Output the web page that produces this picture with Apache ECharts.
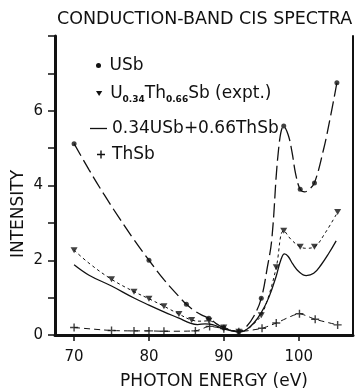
<!DOCTYPE html>
<html>
<head>
<meta charset="utf-8">
<script src="https://cdn.jsdelivr.net/npm/echarts@6/dist/echarts.min.js"></script>
<style>
  html, body { margin: 0; padding: 0; background: #fff; }
  #chart { width: 356px; height: 392px; }
</style>
</head>
<body>
<div id="chart"></div>
<script>
// x ticks / y ticks
const xTicks = [70, 80, 90, 100];
const yLabels = [0, 2, 4, 6];

// USb: long dashes + dots
const usbCurve = [[70,5.12],[72,4.42],[74,3.76],[76,3.14],[78,2.55],[80,2.0],[82,1.48],[84,1.03],[85,0.82],[86,0.66],[87,0.54],[88,0.45],[89,0.3],[90,0.19],[91,0.12],[92,0.09],[93,0.22],[94,0.5],[95,0.98],[95.8,1.8],[96.4,2.55],[97.3,4.95],[98,5.59],[98.6,5.35],[99.1,4.9],[99.6,4.3],[100.2,3.9],[100.8,3.83],[101.4,3.9],[102.1,4.07],[103.3,4.95],[104.2,5.8],[105.1,6.75]];
const usbMarks = [[70,5.12],[80,2.0],[85,0.82],[88,0.45],[90,0.19],[92,0.09],[95,0.98],[98,5.59],[100.2,3.9],[102.1,4.07],[105.1,6.75]];

// U0.34Th0.66Sb measured: short dashes + triangles
const exptCurve = [[70,2.27],[72,1.92],[75,1.49],[78,1.16],[80,0.97],[82,0.77],[84,0.56],[85.7,0.4],[87,0.37],[88,0.38],[89,0.3],[90,0.2],[91,0.13],[92,0.09],[93,0.14],[94,0.3],[95,0.53],[96,1.05],[97,1.81],[98,2.79],[99,2.55],[100.2,2.36],[101,2.32],[102.1,2.36],[103.5,2.72],[105.2,3.29]];
const exptMarks = [[70,2.27],[75,1.49],[78,1.16],[80,0.97],[82,0.77],[84,0.56],[85.7,0.4],[88,0.38],[90,0.2],[92,0.09],[95,0.53],[97,1.81],[98,2.79],[100.2,2.36],[102.1,2.36],[105.2,3.29]];

// 0.34USb + 0.66ThSb: solid
const calcCurve = [[70,1.88],[72,1.6],[75,1.31],[78,0.99],[80,0.8],[82,0.62],[84,0.45],[85.5,0.32],[86.5,0.28],[87.5,0.3],[88.5,0.28],[89.5,0.2],[90.5,0.14],[91.5,0.1],[92.3,0.09],[93,0.14],[94,0.32],[95,0.6],[96,1.0],[97,1.58],[97.6,2.0],[98.1,2.17],[98.6,2.1],[99.2,1.9],[100,1.7],[101,1.59],[102,1.65],[103,1.88],[104,2.18],[105,2.52]];

// ThSb: dashes + crosses
const thsbMarks = [[70,0.2],[75,0.12],[78,0.11],[80,0.11],[82,0.1],[86.2,0.11],[88.1,0.23],[90,0.17],[92,0.09],[95.1,0.18],[97,0.32],[100.1,0.57],[102.2,0.42],[105.2,0.27]];

const INK = '#111';
const FONT = 'DejaVu Sans';
const CROSS = 'path://M3.3,0h1.4v3.3h3.3v1.4h-3.3v3.3h-1.4v-3.3h-3.3v-1.4h3.3z';

const names = ['USb', 'U0.34Th0.66Sb (expt.)', '0.34USb+0.66ThSb', 'ThSb'];

function curve(name, data, dash, width, smooth) {
  return {
    name, type: 'line', data, smooth, symbol: 'none', z: 2,
    lineStyle: { color: INK, width, type: dash },
    emphasis: { disabled: true }, animation: false
  };
}
function marks(name, data, symbol, size, rotate) {
  return {
    name, type: 'scatter', data, symbol, symbolSize: size, symbolRotate: rotate || 0, z: 3,
    itemStyle: { color: INK }, emphasis: { disabled: true }, animation: false
  };
}

const legendBase = {
  orient: 'horizontal', padding: 0, selectedMode: false, symbolKeepAspect: true,
  textStyle: { fontFamily: FONT, fontSize: 17, color: INK },
  itemStyle: { color: INK, borderWidth: 0 }, lineStyle: { width: 0 }
};

const chart = echarts.init(document.getElementById('chart'), null, { renderer: 'canvas' });
chart.setOption({
  backgroundColor: '#fff',
  animation: false,
  title: {
    text: 'CONDUCTION-BAND CIS SPECTRA', left: 57, top: 10, padding: 0,
    textStyle: { fontFamily: FONT, fontSize: 17.5, fontWeight: 'normal', color: INK }
  },
  grid: { left: 55, right: 3, top: 36, bottom: 57 },
  xAxis: [{
    type: 'value', min: 67.45, max: 107.25, position: 'bottom',
    axisLine: { lineStyle: { color: INK, width: 3 } },
    axisTick: { show: true, inside: false, length: 6, customValues: xTicks, lineStyle: { color: INK, width: 1.5 } },
    axisLabel: { customValues: xTicks, margin: 15, color: INK, fontFamily: FONT, fontSize: 15 },
    splitLine: { show: false }
  }, {
    type: 'value', min: 67.45, max: 107.25, position: 'top',
    axisLine: { lineStyle: { color: INK, width: 2 } },
    axisTick: { show: true, inside: true, length: 6, customValues: xTicks, lineStyle: { color: INK, width: 1.5 } },
    axisLabel: { show: false }, splitLine: { show: false }
  }],
  yAxis: [{
    type: 'value', min: 0, max: 8, interval: 1, position: 'left',
    axisLine: { show: true, lineStyle: { color: INK, width: 3 } },
    axisTick: { show: true, inside: false, length: 7, lineStyle: { color: INK, width: 1.5 } },
    axisLabel: {
      margin: 12, color: INK, fontFamily: FONT, fontSize: 15,
      formatter: v => yLabels.indexOf(v) >= 0 ? String(v) : ''
    },
    splitLine: { show: false }
  }, {
    type: 'value', min: 0, max: 8, position: 'right',
    axisLine: { show: true, lineStyle: { color: INK, width: 2 } },
    axisTick: { show: false }, axisLabel: { show: false }, splitLine: { show: false }
  }],
  legend: [
    Object.assign({}, legendBase, {
      data: [{ name: names[0], icon: 'circle' }], left: 96, top: 57, itemWidth: 12, itemHeight: 5
    }),
    Object.assign({}, legendBase, {
      data: [{ name: names[1], icon: 'path://M0,0L10,0L5,8Z' }], left: 96, top: 85, itemWidth: 12, itemHeight: 5,
      formatter: () => '{n|U}{s|0.34}{n|Th}{s|0.66}{n|Sb (expt.)}',
      textStyle: {
        fontFamily: FONT, fontSize: 17, color: INK,
        rich: {
          n: { fontFamily: FONT, fontSize: 17, color: INK, lineHeight: 22, verticalAlign: 'middle' },
          s: { fontFamily: FONT, fontSize: 9, fontWeight: 'bold', color: INK, verticalAlign: 'bottom' }
        }
      }
    }),
    Object.assign({}, legendBase, {
      data: [{ name: names[2], icon: 'rect' }], left: 90, top: 120, itemWidth: 17, itemHeight: 1.3
    }),
    Object.assign({}, legendBase, {
      data: [{ name: names[3], icon: CROSS }], left: 97, top: 146, itemWidth: 12, itemHeight: 8
    })
  ],
  graphic: [{
    type: 'text', x: 19, y: 214, rotation: Math.PI / 2,
    style: { text: 'INTENSITY', fontFamily: FONT, fontSize: 17, fill: INK, align: 'center', verticalAlign: 'middle' }
  }, {
    type: 'text', x: 214, y: 382,
    style: { text: 'PHOTON ENERGY (eV)', fontFamily: FONT, fontSize: 17, fill: INK, align: 'center', verticalAlign: 'middle' }
  }],
  series: [
    curve(names[0], usbCurve, [14, 5], 1.3, 0.4),
    marks(names[0], usbMarks, 'circle', 5),
    curve(names[1], exptCurve, [3, 3], 1, 0.4),
    marks(names[1], exptMarks, 'triangle', [7, 6], 180),
    curve(names[2], calcCurve, 'solid', 1.3, 0.4),
    curve(names[3], thsbMarks, [6, 4], 1, 0.2),
    marks(names[3], thsbMarks, CROSS, 8)
  ]
});
</script>
</body>
</html>
